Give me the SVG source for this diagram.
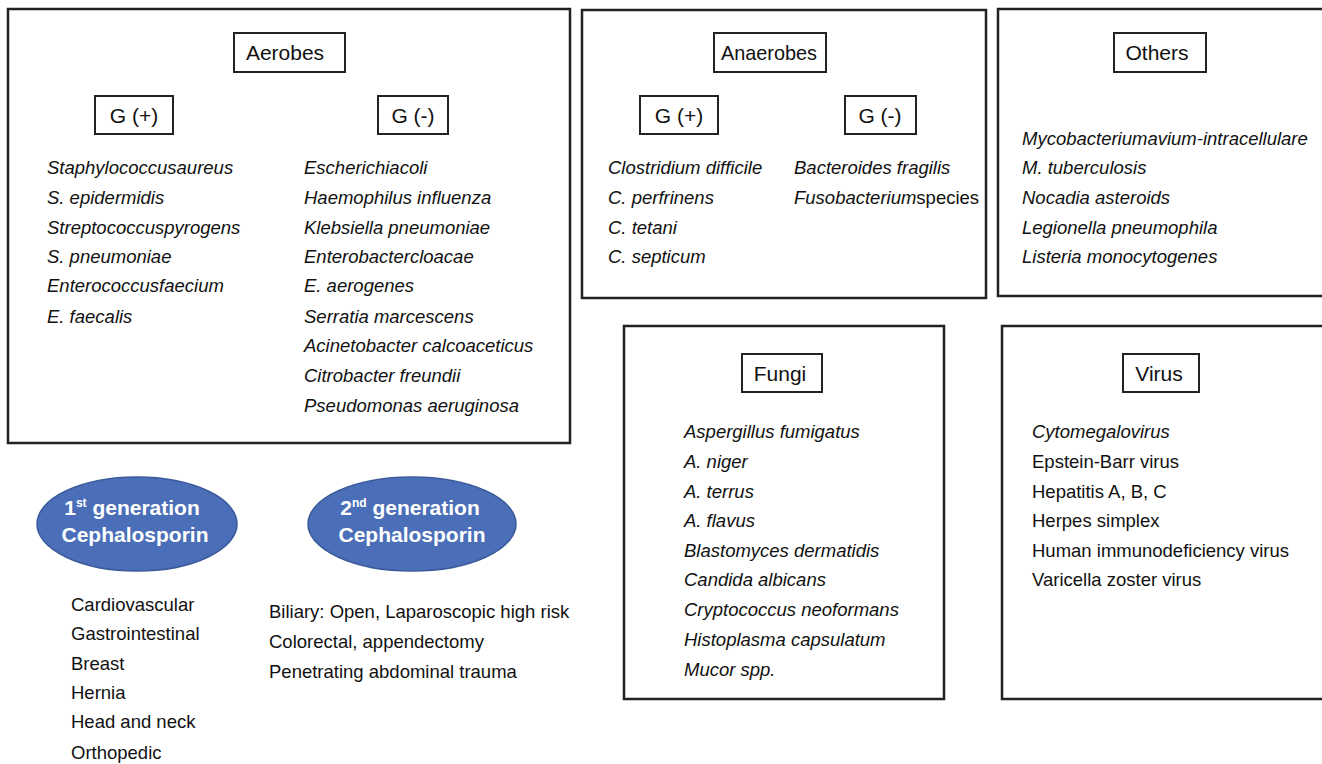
<svg xmlns="http://www.w3.org/2000/svg" width="1322" height="764" viewBox="0 0 1322 764">
  <style>
    .frame { fill: #fff; stroke: #222; stroke-width: 2.5; }
    .tag { fill: #fff; stroke: #222; stroke-width: 2; }
    .tagtxt { font-family: "Liberation Sans", Arial, sans-serif; font-size: 21px; fill: #111; text-anchor: middle; }
    .it { font-family: "Liberation Sans", Arial, sans-serif; font-size: 18.5px; font-style: italic; fill: #111; }
    .rg { font-family: "Liberation Sans", Arial, sans-serif; font-size: 18.5px; fill: #111; }
    .oval { fill: #4a6fb8; stroke: #3a5a9a; stroke-width: 1.5; }
    .ovtxt { font-family: "Liberation Sans", Arial, sans-serif; font-size: 21px; font-weight: bold; fill: #fff; text-anchor: middle; }
  </style>
  <rect width="1322" height="764" fill="#fff"/>

  <!-- Aerobes -->
  <g id="aerobes">
    <rect class="frame" x="8" y="9" width="562" height="434"/>
    <rect class="tag" x="234" y="33" width="111" height="39"/>
    <text class="tagtxt" x="285" y="60">Aerobes</text>
    <rect class="tag" x="95" y="96" width="78" height="38"/>
    <text class="tagtxt" x="134" y="123">G (+)</text>
    <rect class="tag" x="378" y="96" width="70" height="38"/>
    <text class="tagtxt" x="413" y="123">G (-)</text>
    <g class="it">
      <text x="47" y="174">Staphylococcusaureus</text>
      <text x="47" y="204">S. epidermidis</text>
      <text x="47" y="234">Streptococcuspyrogens</text>
      <text x="47" y="263">S. pneumoniae</text>
      <text x="47" y="292">Enterococcusfaecium</text>
      <text x="47" y="323">E. faecalis</text>
    </g>
    <g class="it">
      <text x="304" y="174">Escherichiacoli</text>
      <text x="304" y="204">Haemophilus influenza</text>
      <text x="304" y="234">Klebsiella pneumoniae</text>
      <text x="304" y="263">Enterobactercloacae</text>
      <text x="304" y="292">E. aerogenes</text>
      <text x="304" y="323">Serratia marcescens</text>
      <text x="304" y="352">Acinetobacter calcoaceticus</text>
      <text x="304" y="382">Citrobacter freundii</text>
      <text x="304" y="412">Pseudomonas aeruginosa</text>
    </g>
  </g>

  <!-- Anaerobes -->
  <g id="anaerobes">
    <rect class="frame" x="582" y="10" width="404" height="288"/>
    <rect class="tag" x="714" y="33" width="112" height="39"/>
    <text class="tagtxt" x="769" y="60" textLength="96" lengthAdjust="spacingAndGlyphs">Anaerobes</text>
    <rect class="tag" x="640" y="96" width="78" height="38"/>
    <text class="tagtxt" x="679" y="123">G (+)</text>
    <rect class="tag" x="845" y="96" width="71" height="38"/>
    <text class="tagtxt" x="880" y="123">G (-)</text>
    <g class="it">
      <text x="608" y="174">Clostridium difficile</text>
      <text x="608" y="204">C. perfrinens</text>
      <text x="608" y="234">C. tetani</text>
      <text x="608" y="263">C. septicum</text>
      <text x="794" y="174">Bacteroides fragilis</text>
      <text x="794" y="204">Fusobacterium<tspan font-style="normal">species</tspan></text>
    </g>
  </g>

  <!-- Others -->
  <g id="others">
    <rect class="frame" x="998" y="9" width="330" height="287"/>
    <rect class="tag" x="1114" y="33" width="92" height="39"/>
    <text class="tagtxt" x="1157" y="60">Others</text>
    <g class="it">
      <text x="1022" y="145">Mycobacteriumavium-intracellulare</text>
      <text x="1022" y="174">M. tuberculosis</text>
      <text x="1022" y="204">Nocadia asteroids</text>
      <text x="1022" y="234">Legionella pneumophila</text>
      <text x="1022" y="263">Listeria monocytogenes</text>
    </g>
  </g>

  <!-- Fungi -->
  <g id="fungi">
    <rect class="frame" x="624" y="326" width="320" height="373"/>
    <rect class="tag" x="742" y="354" width="80" height="38"/>
    <text class="tagtxt" x="780" y="381">Fungi</text>
    <g class="it">
      <text x="684" y="438">Aspergillus fumigatus</text>
      <text x="684" y="468">A. niger</text>
      <text x="684" y="498">A. terrus</text>
      <text x="684" y="527">A. flavus</text>
      <text x="684" y="557">Blastomyces dermatidis</text>
      <text x="684" y="586">Candida albicans</text>
      <text x="684" y="616">Cryptococcus neoformans</text>
      <text x="684" y="646">Histoplasma capsulatum</text>
      <text x="684" y="676">Mucor spp.</text>
    </g>
  </g>

  <!-- Virus -->
  <g id="virus">
    <rect class="frame" x="1002" y="326" width="326" height="373"/>
    <rect class="tag" x="1123" y="354" width="76" height="38"/>
    <text class="tagtxt" x="1159" y="381">Virus</text>
    <text class="it" x="1032" y="438">Cytomegalovirus</text>
    <g class="rg">
      <text x="1032" y="468">Epstein-Barr virus</text>
      <text x="1032" y="498">Hepatitis A, B, C</text>
      <text x="1032" y="527">Herpes simplex</text>
      <text x="1032" y="557">Human immunodeficiency virus</text>
      <text x="1032" y="586">Varicella zoster virus</text>
    </g>
  </g>

  <!-- 1st generation -->
  <g id="gen1">
    <ellipse class="oval" cx="137" cy="524" rx="100" ry="47"/>
    <text class="ovtxt" x="132" y="515">1<tspan font-size="12" dy="-8">st</tspan><tspan dy="8"> generation</tspan></text>
    <text class="ovtxt" x="135" y="542">Cephalosporin</text>
    <g class="rg">
      <text x="71" y="611">Cardiovascular</text>
      <text x="71" y="640">Gastrointestinal</text>
      <text x="71" y="670">Breast</text>
      <text x="71" y="699">Hernia</text>
      <text x="71" y="728">Head and neck</text>
      <text x="71" y="759">Orthopedic</text>
    </g>
  </g>

  <!-- 2nd generation -->
  <g id="gen2">
    <ellipse class="oval" cx="412" cy="524" rx="104" ry="47"/>
    <text class="ovtxt" x="410" y="515">2<tspan font-size="12" dy="-8">nd</tspan><tspan dy="8"> generation</tspan></text>
    <text class="ovtxt" x="412" y="542">Cephalosporin</text>
    <g class="rg">
      <text x="269" y="618">Biliary: Open, Laparoscopic high risk</text>
      <text x="269" y="648">Colorectal, appendectomy</text>
      <text x="269" y="678">Penetrating abdominal trauma</text>
    </g>
  </g>
</svg>
